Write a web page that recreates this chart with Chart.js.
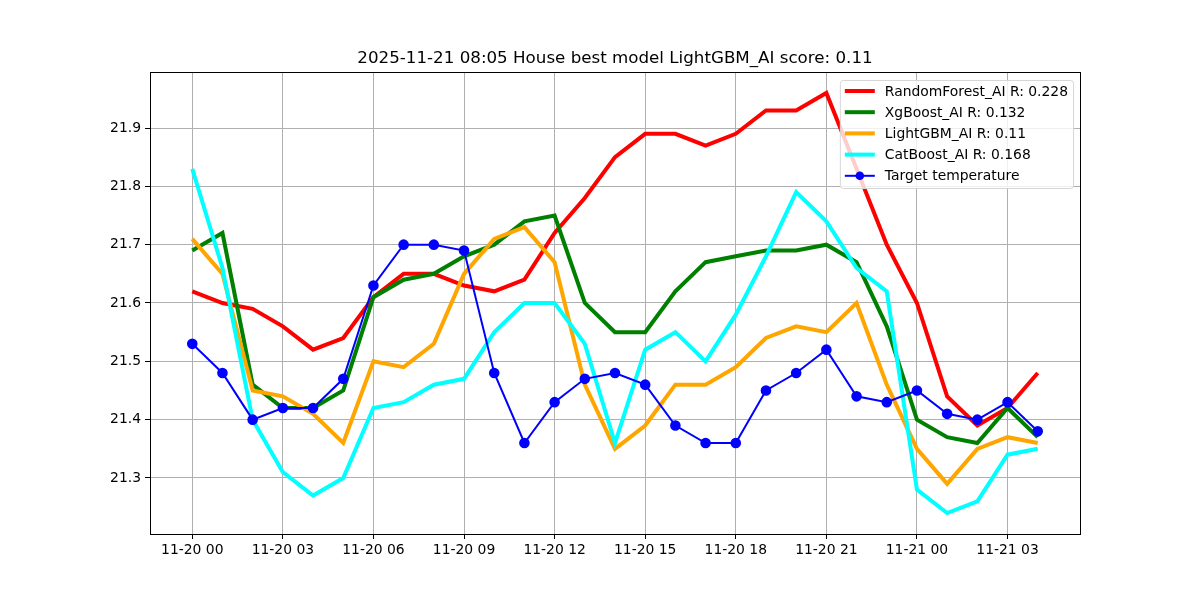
<!DOCTYPE html>
<html>
<head>
<meta charset="utf-8">
<script src="https://cdn.jsdelivr.net/npm/chart.js@4"></script>
<style>
  body { margin: 0; background: #fff; }
</style>
</head>
<body>
<canvas id="chart" width="1200" height="600"></canvas>
<script>
const hours = [
    "11-20 00", "11-20 01", "11-20 02", "11-20 03", "11-20 04", "11-20 05",
    "11-20 06", "11-20 07", "11-20 08", "11-20 09", "11-20 10", "11-20 11",
    "11-20 12", "11-20 13", "11-20 14", "11-20 15", "11-20 16", "11-20 17",
    "11-20 18", "11-20 19", "11-20 20", "11-20 21", "11-20 22", "11-20 23",
    "11-21 00", "11-21 01", "11-21 02", "11-21 03", "11-21 04"
];
const randomForest = [21.62, 21.60, 21.59, 21.56, 21.52, 21.54, 21.61, 21.65, 21.65, 21.63,
    21.62, 21.64, 21.72, 21.78, 21.85, 21.89, 21.89, 21.87, 21.89, 21.93,
    21.93, 21.96, 21.83, 21.70, 21.60, 21.44, 21.39, 21.42, 21.48];
const xgBoost = [21.69, 21.72, 21.46, 21.42, 21.42, 21.45, 21.61, 21.64, 21.65, 21.68,
    21.70, 21.74, 21.75, 21.60, 21.55, 21.55, 21.62, 21.67, 21.68, 21.69,
    21.69, 21.70, 21.67, 21.56, 21.40, 21.37, 21.36, 21.42, 21.37];
const lightGBM = [21.71, 21.65, 21.45, 21.44, 21.41, 21.36, 21.50, 21.49, 21.53, 21.65,
    21.71, 21.73, 21.67, 21.46, 21.35, 21.39, 21.46, 21.46, 21.49, 21.54,
    21.56, 21.55, 21.60, 21.46, 21.35, 21.29, 21.35, 21.37, 21.36];
const catBoost = [21.83, 21.66, 21.40, 21.31, 21.27, 21.30, 21.42, 21.43, 21.46, 21.47,
    21.55, 21.60, 21.60, 21.53, 21.36, 21.52, 21.55, 21.50, 21.58, 21.68,
    21.79, 21.74, 21.66, 21.62, 21.28, 21.24, 21.26, 21.34, 21.35];
const target = [21.53, 21.48, 21.40, 21.42, 21.42, 21.47, 21.63, 21.70, 21.70, 21.69,
    21.48, 21.36, 21.43, 21.47, 21.48, 21.46, 21.39, 21.36, 21.36, 21.45,
    21.48, 21.52, 21.44, 21.43, 21.45, 21.41, 21.40, 21.43, 21.38];
const xTickIndex = [0, 3, 6, 9, 12, 15, 18, 21, 24, 27];
const yTicks = [21.3, 21.4, 21.5, 21.6, 21.7, 21.8, 21.9];
const titleText = "2025-11-21 08:05 House best model LightGBM_AI score: 0.11";

const FONT = "'DejaVu Sans', sans-serif";

function points(vals) {
    return vals.map((v, i) => ({ x: i, y: v }));
}

function modelLine(label, vals, color, order) {
    return {
        label: label,
        data: points(vals),
        borderColor: color,
        backgroundColor: color,
        borderWidth: 4,
        pointRadius: 0,
        pointHoverRadius: 0,
        tension: 0,
        order: order,
    };
}

// box around the plot area + title centred over the plot
const frame = {
    id: "frame",
    afterDatasetsDraw(chart) {
        const a = chart.chartArea;
        const ctx = chart.ctx;
        ctx.save();
        ctx.strokeStyle = "#000";
        ctx.lineWidth = 1;
        ctx.strokeRect(a.left + 0.5, a.top + 0.5, a.right - a.left, a.bottom - a.top);
        ctx.fillStyle = "#000";
        ctx.font = "16.7px " + FONT;
        ctx.textAlign = "center";
        ctx.textBaseline = "middle";
        ctx.fillText(titleText, (a.left + a.right) / 2, a.top - 13);
        ctx.restore();
    },
};

// legend drawn inside the plot, upper right
const legendBox = {
    id: "legendBox",
    afterDraw(chart) {
        const ctx = chart.ctx;
        const a = chart.chartArea;
        const sets = chart.data.datasets;
        ctx.save();
        ctx.font = "13.9px " + FONT;
        let w = 0;
        sets.forEach(d => { w = Math.max(w, ctx.measureText(d.label).width); });
        const boxW = 45 + w + 5;
        const boxH = 108;
        const x0 = a.right - 7 - boxW;
        const y0 = a.top + 8;
        ctx.beginPath();
        ctx.roundRect(x0 + 0.5, y0 + 0.5, boxW, boxH, 3);
        ctx.fillStyle = "rgba(255,255,255,0.8)";
        ctx.fill();
        ctx.strokeStyle = "#d6d6d6";
        ctx.lineWidth = 1;
        ctx.stroke();
        sets.forEach((d, k) => {
            const y = y0 + 11 + k * 21.2;
            ctx.strokeStyle = d.borderColor;
            ctx.lineWidth = d.borderWidth;
            ctx.beginPath();
            ctx.moveTo(x0 + 5, y);
            ctx.lineTo(x0 + 35, y);
            ctx.stroke();
            if (d.pointRadius > 0) {
                ctx.fillStyle = d.pointBackgroundColor;
                ctx.beginPath();
                ctx.arc(x0 + 20, y, d.pointRadius, 0, Math.PI * 2);
                ctx.fill();
            }
            ctx.fillStyle = "#000";
            ctx.textBaseline = "middle";
            ctx.textAlign = "left";
            ctx.fillText(d.label, x0 + 45, y + 1);
        });
        ctx.restore();
    },
};

const chart = new Chart(document.getElementById("chart").getContext("2d"), {
    type: "line",
    data: {
        datasets: [
            modelLine("RandomForest_AI R: 0.228", randomForest, "#ff0000", 5),
            modelLine("XgBoost_AI R: 0.132", xgBoost, "#008000", 4),
            modelLine("LightGBM_AI R: 0.11", lightGBM, "#ffa500", 3),
            modelLine("CatBoost_AI R: 0.168", catBoost, "#00ffff", 2),
            {
                label: "Target temperature",
                data: points(target),
                borderColor: "#0000ff",
                backgroundColor: "#0000ff",
                pointBackgroundColor: "#0000ff",
                pointBorderColor: "#0000ff",
                borderWidth: 2,
                pointRadius: 4.3,
                pointHoverRadius: 4.3,
                tension: 0,
                order: 1,
            },
        ],
    },
    options: {
        responsive: false,
        animation: false,
        layout: {
            padding: { left: 0, right: 120, top: 72, bottom: 0 },
        },
        plugins: {
            legend: { display: false },
            tooltip: { enabled: false },
            title: { display: false },
        },
        scales: {
            x: {
                type: "linear",
                min: -1.4,
                max: 29.4,
                afterBuildTicks: (scale) => {
                    scale.ticks = xTickIndex.map(v => ({ value: v }));
                },
                afterFit: (scale) => { scale.height = 66; },
                ticks: {
                    color: "#000",
                    font: { family: FONT, size: 13.9 },
                    padding: 3,
                    maxRotation: 0,
                    autoSkip: false,
                    callback: (v) => hours[v],
                },
                grid: {
                    color: "#b0b0b0",
                    lineWidth: 1,
                    tickColor: "#000",
                    tickLength: 5,
                },
                border: { display: false },
            },
            y: {
                min: 21.204,
                max: 21.996,
                afterBuildTicks: (scale) => {
                    scale.ticks = yTicks.map(v => ({ value: v }));
                },
                afterFit: (scale) => { scale.width = 150; },
                ticks: {
                    color: "#000",
                    font: { family: FONT, size: 13.9 },
                    padding: 4,
                    autoSkip: false,
                    callback: (v) => v.toFixed(1),
                },
                grid: {
                    color: "#b0b0b0",
                    lineWidth: 1,
                    tickColor: "#000",
                    tickLength: 5,
                },
                border: { display: false },
            },
        },
    },
    plugins: [frame, legendBox],
});
</script>
</body>
</html>
